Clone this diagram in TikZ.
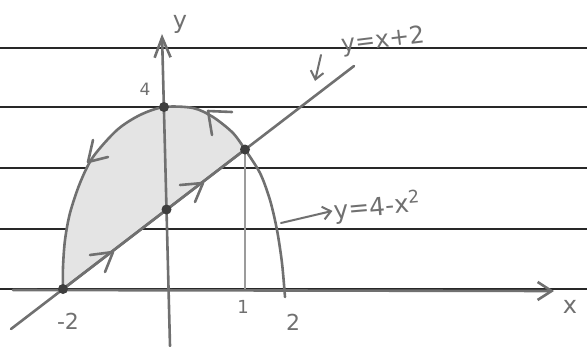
\documentclass[tikz,border=0pt]{standalone}
\usepackage{fontspec}
\setmainfont{DejaVu Sans}
\usetikzlibrary{arrows.meta}
\definecolor{pencil}{RGB}{112,112,112}
\definecolor{ink}{RGB}{40,40,40}
\definecolor{shade}{RGB}{228,228,228}

\begin{document}
\begin{tikzpicture}[x=1pt,y=-1pt,
  pen/.style={draw=pencil,line width=2.6pt,line cap=round,line join=round},
  ruled/.style={draw=ink,line width=1.4pt},
  pt/.style={circle,fill=pencil!55!black,inner sep=0pt,minimum size=10pt},
  lbl/.style={text=pencil,inner sep=1pt,font=\fontsize{22}{26}\selectfont},
  axtip/.style={-{Straight Barb[length=14pt,width=18pt]}},
  smalltip/.style={-{Straight Barb[length=8pt,width=13pt]}}]
\useasboundingbox (0,0) rectangle (587,346);
\foreach \r in {48,107,168,229,289} \draw[ruled] (0,\r) -- (587,\r);

\coordinate (xa) at (13,290);
\coordinate (xb) at (554,291);
\coordinate (ya) at (170,346);
\coordinate (yb) at (162,34);
\coordinate (l0) at (11,329);
\coordinate (l1) at (354,66);

\path[pen,fill=shade] plot[smooth] coordinates {(245,149.5) (233,133) (213,117) (193,108) (164,107) (140,115) (117,130) (93,157) (80,183) (70,213) (65,240) (63,267) (63,289)} -- cycle;
\draw[pen] plot[smooth] coordinates {(245,149.5) (260,173) (270,200) (277,230) (282,263) (285,297)};
\draw[draw=pencil!70,line width=2pt] (245,149.5) -- (245,290);

\draw[pen,axtip] (xa) -- (xb);
\draw[pen,-{Straight Barb[length=20pt,width=16pt]}] (ya) -- (yb);
\draw[pen] (l0) -- (l1);

\node[pt] (p) at (63,289) {};
\node[pt] (t) at (164,107) {};
\node[pt] (c) at (166.5,209.5) {};
\node[pt] (q) at (245,149.5) {};

\draw[pen] (90,255) -- (113,252) -- (105,272);
\draw[pen] (180,185) -- (203,183) -- (195,202);
\draw[pen] (232,112) -- (208,111) -- (212,135);
\draw[pen] (93,140) -- (88,162) -- (108,157);

\node[lbl,font=\fontsize{24}{28}\selectfont] (ylab) at (180,24) {y};
\node[lbl,font=\fontsize{24}{28}\selectfont] (xlab) at (570,307) {x};
\node[lbl,font=\fontsize{17}{20}\selectfont] (four) at (145,89) {4};
\node[lbl] (mtwo) at (68,321) {-2};
\node[lbl,font=\fontsize{18}{22}\selectfont] (one) at (243,307) {1};
\node[lbl] (two) at (293,322) {2};
\node[lbl,rotate=7,font=\fontsize{24}{28}\selectfont] (lab1) at (383,41) {y=x+2};
\node[lbl,rotate=5,font=\fontsize{25}{28}\selectfont] (lab2) at (377,207) {y=4-x\textsuperscript{2}};

\coordinate (a1) at (321,55);
\coordinate (a1e) at (315,81);
\coordinate (a2) at (281,223);
\draw[pen,line width=2pt,smalltip] (a1) -- (a1e);
\draw[pen,line width=2pt,smalltip] (a2) -- (lab2.west);
\end{tikzpicture}
\end{document}
